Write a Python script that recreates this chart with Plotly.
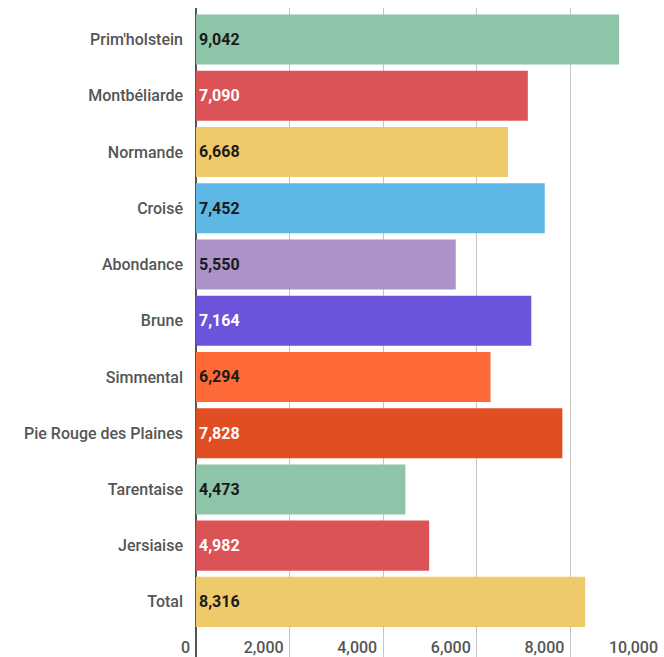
import plotly.graph_objects as go

# Average milk yield per breed (kg)
breeds = [
    "Prim'holstein", "Montbéliarde", "Normande", "Croisé", "Abondance",
    "Brune", "Simmental", "Pie Rouge des Plaines", "Tarentaise", "Jersiaise", "Total",
]
yields = [9042, 7090, 6668, 7452, 5550, 7164, 6294, 7828, 4473, 4982, 8316]
bar_colors = [
    "#8ec4a8", "#db5356", "#efca6a", "#5eb7e5", "#ab93c9",
    "#6b54da", "#fd6a37", "#e14e22", "#8ec4a8", "#db5356", "#efca6a",
]
label_colors = [
    "#1a1a1a", "#ffffff", "#1a1a1a", "#1a1a1a", "#1a1a1a",
    "#ffffff", "#1a1a1a", "#ffffff", "#1a1a1a", "#ffffff", "#1a1a1a",
]
x_ticks = [0, 2000, 4000, 6000, 8000, 10000]

n = len(breeds)
fig = go.Figure(
    go.Bar(
        x=yields,
        y=breeds,
        orientation="h",
        marker=dict(color=bar_colors, line=dict(width=0)),
        texttemplate="%{x:,d}",
        textposition="inside",
        insidetextanchor="start",
        textfont=dict(family="Roboto", size=16, color=label_colors, weight=700),
        constraintext="none",
        hoverinfo="skip",
    )
)

fig.update_layout(
    width=664,
    height=657,
    margin=dict(l=196, r=0, t=8, b=0),
    plot_bgcolor="white",
    paper_bgcolor="white",
    bargap=0.11,
    showlegend=False,
    font=dict(family="Roboto", size=16, color="#555555"),
)

fig.update_xaxes(
    range=[0, 10000],
    tickvals=x_ticks,
    tickformat=",d",
    ticklabelposition="inside left",
    ticklabeloverflow="allow",
    ticklabelshift=-6,
    ticklabelstandoff=-5,
    ticks="",
    showgrid=True,
    gridcolor="#c4c4c4",
    gridwidth=1,
    zeroline=True,
    zerolinecolor="#555555",
    zerolinewidth=2,
    tickfont=dict(family="Roboto", size=16, color="#555555", weight=500),
    fixedrange=True,
)

fig.update_yaxes(
    type="category",
    categoryorder="array",
    categoryarray=breeds,
    range=[n - 0.5 + 0.48, -0.56],
    ticks="",
    ticklabelstandoff=12,
    showgrid=False,
    tickfont=dict(family="Roboto", size=16, color="#555555", weight=500),
    fixedrange=True,
)

fig.write_html("out.html")
